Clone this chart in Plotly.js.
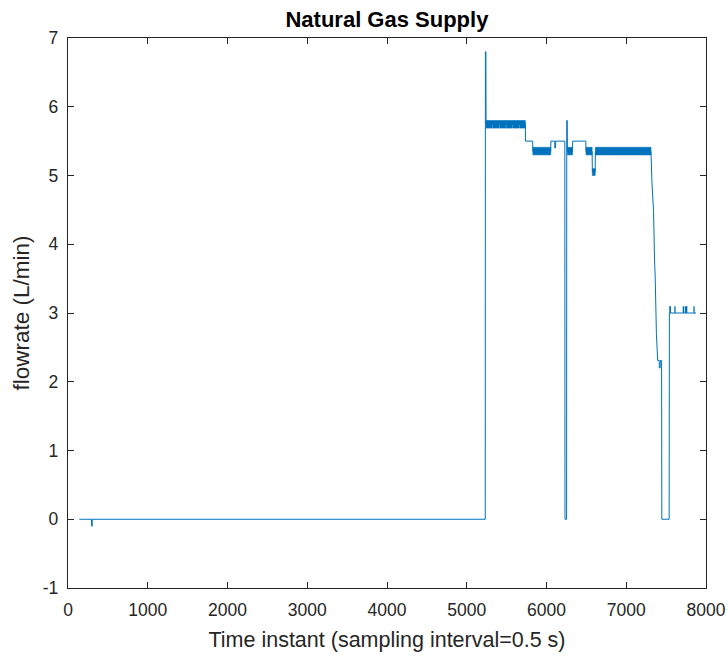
<!DOCTYPE html>
<html>
<head>
<meta charset="utf-8">
<script src="https://cdn.plot.ly/plotly-3.0.1.min.js"></script>
<style>html,body{margin:0;padding:0;background:#fff;}#chart{width:728px;height:662px;}</style>
</head>
<body>
<div id="chart"></div>
<script>
// Main step-like signal (time instant, flow rate L/min)
const time = [142, 295, 296, 303, 304, 5232, 5234, 5240, 5242, 5735, 5737, 5827, 5829, 6053, 6055, 6103, 6105, 6113, 6115, 6230, 6232, 6252, 6254, 6260, 6262, 6326, 6328, 6493, 6495, 6572, 6575, 6610, 6613, 7310, 7322, 7342, 7355, 7364, 7378, 7394, 7413, 7415, 7425, 7427, 7443, 7446, 7538, 7541, 7875];
const flow = [0, 0, -0.1, -0.1, 0, 0, 6.8, 6.8, 5.75, 5.75, 5.5, 5.5, 5.35, 5.35, 5.5, 5.5, 5.4, 5.4, 5.5, 5.5, 0, 0, 5.8, 5.8, 5.35, 5.35, 5.5, 5.5, 5.35, 5.35, 5.05, 5.05, 5.35, 5.35, 4.9, 4.49, 3.77, 3.48, 2.7, 2.31, 2.31, 2.2, 2.2, 2.31, 2.31, 0, 0, 3.0, 3.0];

// Rapidly fluctuating stretches, drawn as their min/max envelope
const bandStart = [5242, 5242, 5330, 5413, 5497, 5580, 5664, 5829, 6262, 6495, 6575, 6613];
const bandEnd   = [5735, 5322, 5405, 5489, 5572, 5656, 5735, 6053, 6326, 6572, 6610, 7310];
const bandLow   = [5.75, 5.69, 5.69, 5.69, 5.69, 5.69, 5.69, 5.30, 5.30, 5.30, 5.00, 5.30];
const bandHigh  = [5.80, 5.75, 5.75, 5.75, 5.75, 5.75, 5.75, 5.41, 5.41, 5.41, 5.10, 5.41];

// Short upward spikes on the final 3.0 L/min level
const spikeTime = [7549, 7552, 7611, 7716, 7741, 7750, 7758, 7850];
const spikeBase = [3.0, 3.0, 3.0, 3.0, 3.0, 3.0, 3.0, 3.0];
const spikeTop  = [3.1, 3.1, 3.1, 3.1, 3.1, 3.1, 3.1, 3.1];

const xTicks = [0, 1000, 2000, 3000, 4000, 5000, 6000, 7000, 8000];
const yTicks = [-1, 0, 1, 2, 3, 4, 5, 6, 7];

const blue = '#0072BD';
const axisCol = '#262626';
const fontFam = '"Liberation Sans", Arial, Helvetica, sans-serif';

const traces = [];
for (let i = 0; i < bandStart.length; i++) {
  traces.push({
    x: [bandStart[i], bandEnd[i], bandEnd[i], bandStart[i], bandStart[i]],
    y: [bandLow[i], bandLow[i], bandHigh[i], bandHigh[i], bandLow[i]],
    mode: 'lines', fill: 'toself', fillcolor: blue,
    line: {width: 0.6, color: blue}, hoverinfo: 'skip', showlegend: false
  });
}
const sx = [], sy = [];
for (let i = 0; i < spikeTime.length; i++) {
  sx.push(spikeTime[i], spikeTime[i], null);
  sy.push(spikeBase[i], spikeTop[i], null);
}
traces.push({x: sx, y: sy, mode: 'lines', line: {width: 1.3, color: blue}, showlegend: false});
traces.push({x: time, y: flow, mode: 'lines', line: {width: 1, color: blue}, showlegend: false});

const layout = {
  width: 728, height: 662,
  margin: {l: 68, r: 22, t: 38, b: 74},
  paper_bgcolor: '#fff', plot_bgcolor: '#fff',
  font: {family: fontFam, color: axisCol, size: 17},
  title: {text: '<b>Natural Gas Supply</b>', font: {family: fontFam, size: 22, color: '#000'},
          x: 0.5315, xanchor: 'center', y: 0.971, yanchor: 'middle'},
  xaxis: {
    range: [0, 8000], tickvals: xTicks, ticktext: xTicks.map(String),
    ticks: 'inside', ticklen: 6, tickwidth: 1, tickcolor: axisCol,
    showline: true, linecolor: axisCol, linewidth: 1.2, mirror: 'ticks',
    showgrid: false, zeroline: false, ticklabelstandoff: 6,
    tickfont: {size: 17.5, color: axisCol, family: fontFam},
    title: {text: 'Time instant (sampling interval=0.5 s)', font: {size: 21.5, color: axisCol, family: fontFam}, standoff: 12}
  },
  yaxis: {
    range: [-1, 7], tickvals: yTicks, ticktext: yTicks.map(String),
    ticks: 'inside', ticklen: 6, tickwidth: 1, tickcolor: axisCol,
    showline: true, linecolor: axisCol, linewidth: 1.2, mirror: 'ticks',
    showgrid: false, zeroline: false, ticklabelstandoff: 5,
    tickfont: {size: 17.5, color: axisCol, family: fontFam},
    title: {text: 'flowrate (L/min)', font: {size: 22.5, color: axisCol, family: fontFam}, standoff: 6}
  }
};

Plotly.newPlot('chart', traces, layout, {displayModeBar: false, staticPlot: true});
</script>
</body>
</html>
